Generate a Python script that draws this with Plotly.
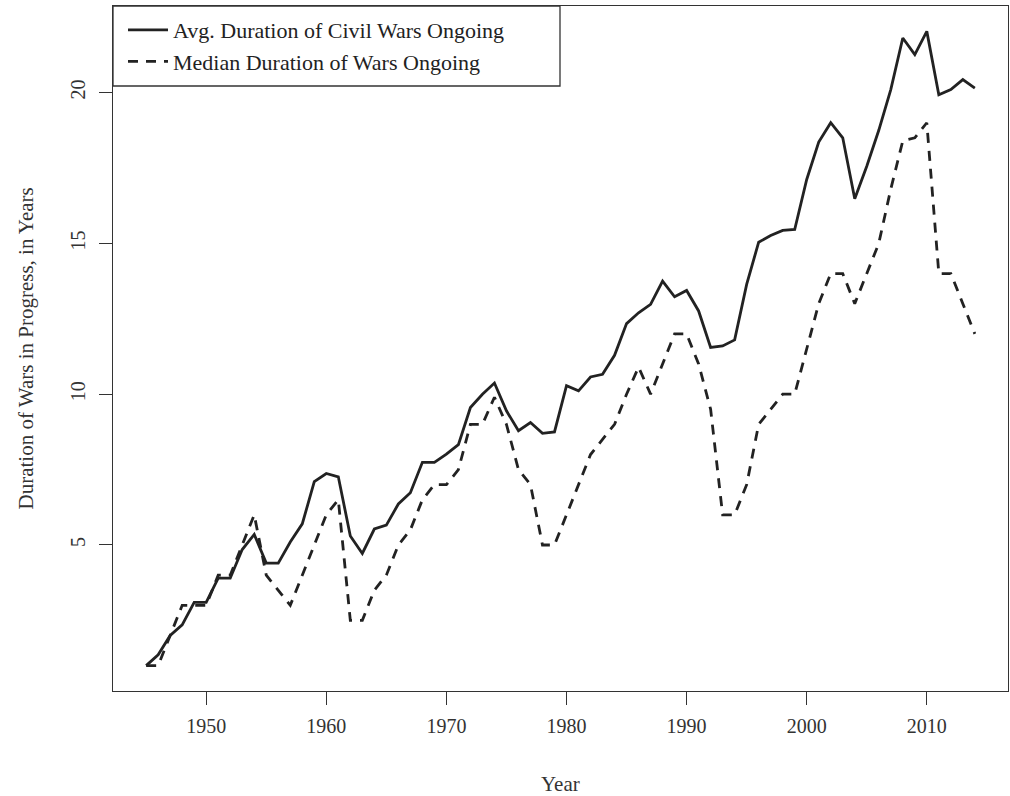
import plotly.graph_objects as go

years = list(range(1945, 2015))

avg_duration = [
    1.0, 1.36, 2.0, 2.35, 3.1, 3.1, 3.9, 3.9, 4.85, 5.35,
    4.4, 4.4, 5.1, 5.7, 7.1, 7.37, 7.26, 5.3, 4.72, 5.53,
    5.66, 6.36, 6.73, 7.74, 7.74, 8.01, 8.33, 9.56, 10.0, 10.37,
    9.45, 8.79, 9.06, 8.7, 8.75, 10.28, 10.11, 10.57, 10.66, 11.29,
    12.34, 12.7, 12.98, 13.75, 13.23, 13.44, 12.76, 11.55, 11.6, 11.8,
    13.64, 15.04, 15.26, 15.43, 15.46, 17.12, 18.36, 19.0, 18.5, 16.48,
    17.56, 18.75, 20.1, 21.81, 21.26, 22.03, 19.93, 20.1, 20.43, 20.15,
]

median_duration = [
    1, 1, 2, 3, 3, 3, 4, 4, 5, 6,
    4, 3.5, 3, 4, 5, 6, 6.5, 2.5, 2.5, 3.5,
    4, 5, 5.5, 6.5, 7, 7, 7.5, 9, 9, 9.9,
    9, 7.5, 7, 5, 5, 6, 7, 8, 8.5, 9,
    10, 10.9, 10, 11, 12, 12, 11, 9.5, 6, 6,
    7, 9, 9.5, 10, 10, 11.5, 13, 14, 14, 13,
    14, 15, 16.8, 18.4, 18.5, 19, 14, 14, 13, 12,
]

x_ticks = [1950, 1960, 1970, 1980, 1990, 2000, 2010]
y_ticks = [5, 10, 15, 20]

series_names = ["Avg. Duration of Civil Wars Ongoing", "Median Duration of Wars Ongoing"]
x_title = "Year"
y_title = "Duration of Wars in Progress, in Years"

FONT = "Liberation Serif"
INK = "#222222"
AXIS = "#333333"

W, H = 1010, 796
ML, MR, MT, MB = 113, 2, 6, 105
PW, PH = W - ML - MR, H - MT - MB

fig = go.Figure()
fig.add_trace(go.Scatter(
    x=years, y=avg_duration, mode="lines", name=series_names[0],
    line=dict(color=INK, width=2.8),
))
fig.add_trace(go.Scatter(
    x=years, y=median_duration, mode="lines", name=series_names[1],
    line=dict(color=INK, width=2.8, dash="10px,8px"),
))

# R-style 4% padding
xmin, xmax = min(years), max(years)
ymin = min(min(avg_duration), min(median_duration))
ymax = max(max(avg_duration), max(median_duration))
xpad = 0.04 * (xmax - xmin)
ypad = 0.04 * (ymax - ymin)

# legend box (R style, attached to top-left corner of the plot frame)
box_right = (560 - ML) / PW
box_bottom = (MT + PH - 86) / PH

fig.update_layout(
    width=W, height=H,
    margin=dict(l=ML, r=MR, t=MT, b=MB),
    paper_bgcolor="white", plot_bgcolor="white",
    font=dict(family=FONT, size=21, color=AXIS),
    showlegend=True,
    legend=dict(
        x=10 / PW, y=1 - 3 / PH, xanchor="left", yanchor="top",
        bgcolor="rgba(0,0,0,0)", borderwidth=0,
        font=dict(family=FONT, size=22, color=INK),
        itemwidth=40, tracegroupgap=0,
    ),
    shapes=[
        dict(type="rect", xref="paper", yref="paper",
             x0=0, x1=box_right, y0=box_bottom, y1=1,
             line=dict(color=AXIS, width=1.3), fillcolor="white", layer="below"),
    ],
    xaxis=dict(
        range=[xmin - xpad, xmax + xpad],
        tickvals=x_ticks, ticktext=[str(v) for v in x_ticks],
        ticks="outside", ticklen=13, tickwidth=1.2, tickcolor=AXIS,
        showline=True, linecolor=AXIS, linewidth=1.3, mirror=True,
        showgrid=False, zeroline=False, ticklabelstandoff=4,
        tickfont=dict(family=FONT, size=20, color=AXIS),
    ),
    yaxis=dict(
        range=[ymin - ypad, ymax + ypad],
        tickvals=y_ticks, ticktext=[str(v) for v in y_ticks],
        tickangle=-90,
        ticks="outside", ticklen=13, tickwidth=1.2, tickcolor=AXIS,
        showline=True, linecolor=AXIS, linewidth=1.3, mirror=True,
        showgrid=False, zeroline=False, ticklabelstandoff=6,
        tickfont=dict(family=FONT, size=20, color=AXIS),
    ),
    annotations=[
        dict(text=x_title, xref="paper", yref="paper", x=0.5, y=0,
             xanchor="center", yanchor="middle", yshift=-93, showarrow=False,
             font=dict(family=FONT, size=21, color=AXIS)),
        dict(text=y_title, xref="paper", yref="paper", x=0, y=0.5,
             xanchor="center", yanchor="middle", xshift=-88, textangle=-90,
             showarrow=False, font=dict(family=FONT, size=21, color=AXIS)),
    ],
)

fig.write_html(
    "out.html",
    config={"displayModeBar": False},
    post_script="document.body.style.margin='0';document.body.style.padding='0';",
)
